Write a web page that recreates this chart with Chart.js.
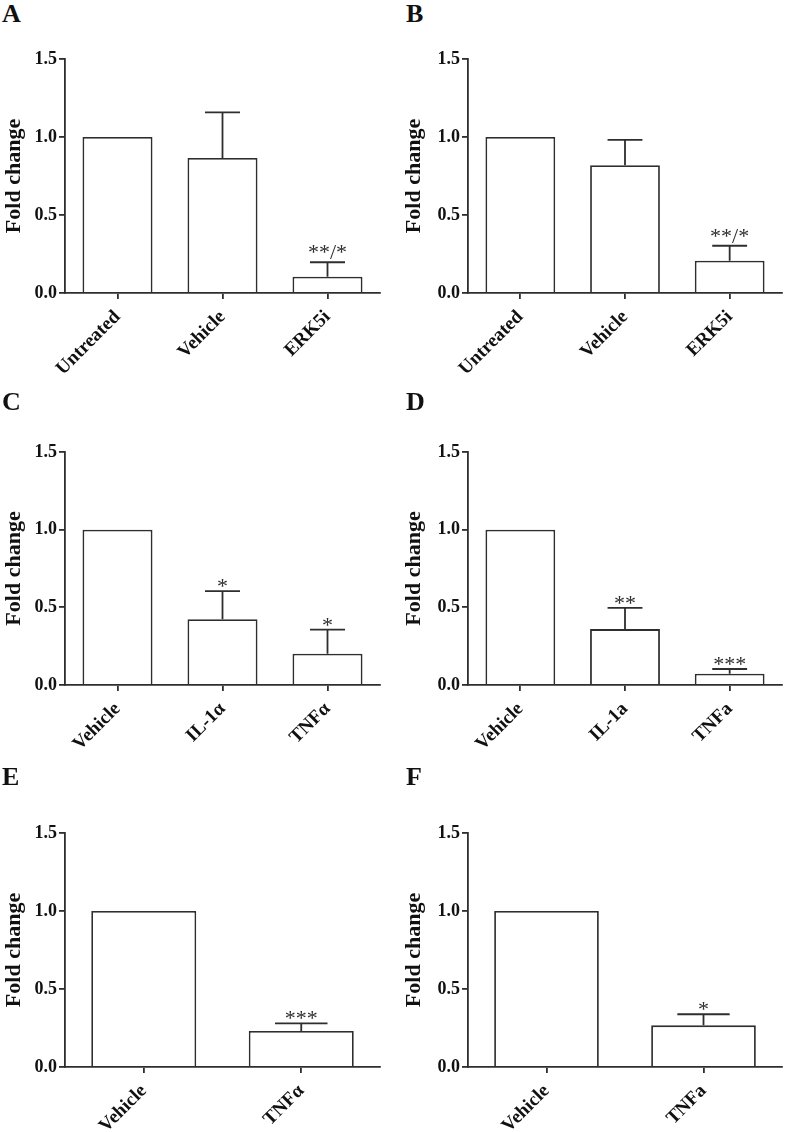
<!DOCTYPE html>
<html>
<head>
<meta charset="utf-8">
<script src="https://cdn.jsdelivr.net/npm/chart.js@4/dist/chart.umd.min.js"></script>
<style>
  body { margin: 0; background: #fff; width: 787px; height: 1132px; position: relative; overflow: hidden; }
  .panel { position: absolute; }
  .letter { position: absolute; font: bold 26px "Liberation Serif", serif; color: #111; line-height: 1; }
</style>
</head>
<body>
<script>
// ---- data ----
const labelsAB = ["Untreated", "Vehicle", "ERK5i"];
const meanA = [1.0, 0.865, 0.104];
const semA = [0, 0.293, 0.093];
const starsA = ["", "", "**/*"];

const meanB = [1.0, 0.819, 0.207];
const semB = [0, 0.162, 0.096];
const starsB = ["", "", "**/*"];

const labelsC = ["Vehicle", "IL-1α", "TNFα"];
const meanC = [1.0, 0.424, 0.201];
const semC = [0, 0.18, 0.155];
const starsC = ["", "*", "*"];

const labelsD = ["Vehicle", "IL-1a", "TNFa"];
const meanD = [1.0, 0.36, 0.073];
const semD = [0, 0.137, 0.03];
const starsD = ["", "**", "***"];

const labelsE = ["Vehicle", "TNFα"];
const meanE = [1.0, 0.231];
const semE = [0, 0.049];
const starsE = ["", "***"];

const labelsF = ["Vehicle", "TNFa"];
const meanF = [1.0, 0.267];
const semF = [0, 0.071];
const starsF = ["", "*"];

const yTicks = [0, 0.5, 1.0, 1.5];
const yTitle = "Fold change";

// ---- look ----
const LINE = "#2e2e2e";
const TEXT = "#111";
const SERIF = "'Liberation Serif', 'Times New Roman', serif";

Chart.defaults.font.family = SERIF;
Chart.defaults.color = TEXT;

// upper-only error bars + significance marks
const errorBars = {
  id: "errorBars",
  afterDatasetsDraw(chart) {
    const { ctx } = chart;
    const y = chart.scales.y;
    const ds = chart.data.datasets[0];
    const meta = chart.getDatasetMeta(0);
    ctx.save();
    ctx.strokeStyle = LINE;
    ctx.lineWidth = 1.8;
    meta.data.forEach((bar, i) => {
      const base = y.getPixelForValue(ds.data[i]);
      const top = y.getPixelForValue(ds.data[i] + ds.sem[i]);
      if (ds.sem[i] > 0) {
        const half = bar.width / 4;
        ctx.beginPath();
        ctx.moveTo(bar.x, base);
        ctx.lineTo(bar.x, top);
        ctx.moveTo(bar.x - half, top);
        ctx.lineTo(bar.x + half, top);
        ctx.stroke();
      }
      const mark = ds.stars[i];
      if (mark) {
        ctx.fillStyle = LINE;
        ctx.font = `22px ${SERIF}`;
        ctx.textAlign = "center";
        ctx.textBaseline = "alphabetic";
        ctx.fillText(mark, bar.x, top + (mark.includes("/") ? -3 : 2));
      }
    });
    ctx.restore();
  },
};

function panel(letter, labels, mean, sem, stars, box, area, letterPos) {
  const div = document.createElement("div");
  div.className = "panel";
  div.style.left = box.x + "px";
  div.style.top = box.y + "px";
  const cv = document.createElement("canvas");
  cv.width = box.w;
  cv.height = box.h;
  cv.style.width = box.w + "px";
  cv.style.height = box.h + "px";
  div.appendChild(cv);
  document.body.appendChild(div);

  const lab = document.createElement("div");
  lab.className = "letter";
  lab.textContent = letter;
  lab.style.left = letterPos.x + "px";
  lab.style.top = letterPos.y + "px";
  document.body.appendChild(lab);

  new Chart(cv, {
    type: "bar",
    data: {
      labels,
      datasets: [{
        data: mean,
        sem,
        stars,
        backgroundColor: "#fff",
        borderColor: LINE,
        borderWidth: 1.8,
        barPercentage: 2 / 3,
        categoryPercentage: 1,
      }],
    },
    options: {
      responsive: false,
      animation: false,
      events: [],
      layout: { padding: { left: 0, top: area.t - box.y, right: box.x + box.w - area.r, bottom: 0 } },
      plugins: { legend: { display: false }, tooltip: { enabled: false } },
      scales: {
        x: {
          afterFit: (s) => { s.height = box.y + box.h - area.b; },
          grid: { display: true, drawOnChartArea: false, offset: false, color: LINE, lineWidth: 1.8, tickLength: 6 },
          border: { display: true, color: LINE, width: 1.8 },
          ticks: { autoSkip: false, minRotation: 45, maxRotation: 45, padding: 7, color: TEXT, font: { size: 19, weight: "bold" } },
        },
        y: {
          min: 0,
          max: 1.5,
          afterBuildTicks: (s) => { s.ticks = yTicks.map((v) => ({ value: v })); },
          afterFit: (s) => { s.width = area.l - box.x; },
          grid: { display: true, drawOnChartArea: false, color: LINE, lineWidth: 1.8, tickLength: 6 },
          border: { display: true, color: LINE, width: 1.8 },
          ticks: { padding: 2, color: TEXT, font: { size: 18, weight: "bold" }, callback: (v) => Number(v).toFixed(1) },
          title: { display: true, text: yTitle, color: TEXT, padding: { top: 3, bottom: 0 }, font: { size: 22, weight: "bold", lineHeight: 1 } },
        },
      },
    },
    plugins: [errorBars],
  });
}

const leftBox = (y, h) => ({ x: 0, y, w: 390, h });
const rightBox = (y, h) => ({ x: 400, y, w: 387, h });
const leftArea = (t, b) => ({ l: 65, t, r: 380, b });
const rightArea = (t, b) => ({ l: 468, t, r: 782, b });

panel("A", labelsAB, meanA, semA, starsA, leftBox(30, 350), leftArea(59, 293), { x: 2, y: 1 });
panel("B", labelsAB, meanB, semB, starsB, rightBox(30, 350), rightArea(59, 293), { x: 406, y: 1 });
panel("C", labelsC, meanC, semC, starsC, leftBox(410, 370), leftArea(452, 685), { x: 2, y: 389 });
panel("D", labelsD, meanD, semD, starsD, rightBox(410, 370), rightArea(452, 685), { x: 406, y: 389 });
panel("E", labelsE, meanE, semE, starsE, leftBox(800, 332), leftArea(833, 1067), { x: 2, y: 764 });
panel("F", labelsF, meanF, semF, starsF, rightBox(800, 332), rightArea(833, 1067), { x: 406, y: 764 });
</script>
</body>
</html>
